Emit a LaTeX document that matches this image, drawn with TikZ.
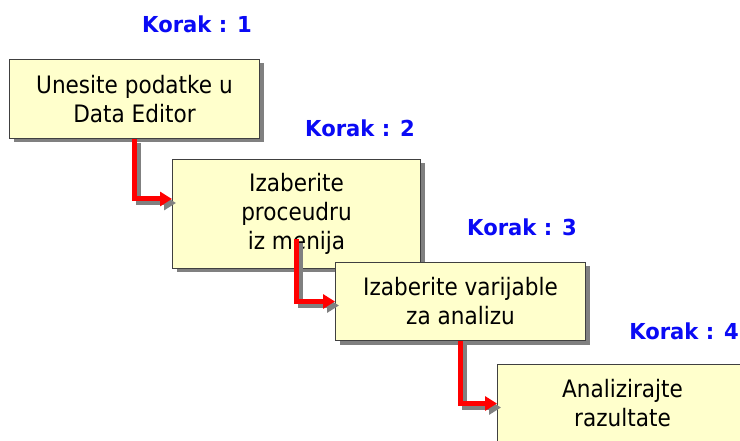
\documentclass[tikz,border=0pt]{standalone}
\usepackage{fontspec}
\setmainfont{DejaVu Sans}[FakeStretch=0.9]
\newfontfamily\korakfont{DejaVu Sans}[FakeStretch=0.96]
\usetikzlibrary{shadows,arrows.meta,calc}
\definecolor{boxfill}{RGB}{255,255,204}
\definecolor{korakblue}{RGB}{10,10,245}
\definecolor{shadowgray}{RGB}{128,128,128}
\newcommand\steparrow[2]{%
  \draw[arrowshadow] ($(#1)+(4,-4)$) |- ($(#2)+(4,-4)$);
  \draw[arrowmain] (#1) |- (#2);}
\begin{document}
\begin{tikzpicture}[x=1pt,y=1pt,
  stepbox/.style={draw=black!75, line width=1pt, fill=boxfill, anchor=north west,
    inner sep=0pt, align=center, font=\fontsize{24}{29}\selectfont,
    drop shadow={shadow xshift=4pt, shadow yshift=-4pt, fill=shadowgray, opacity=1}},
  korak/.style={anchor=base, text=korakblue, inner sep=0pt,
    font=\korakfont\bfseries\fontsize{22}{26}\selectfont},
  arrowmain/.style={draw=red, line width=5pt, -{Triangle[length=12pt,width=14pt]}},
  arrowshadow/.style={draw=shadowgray, line width=5pt, -{Triangle[length=12pt,width=14pt]}}]
\useasboundingbox (0,0) rectangle (740,-441);
\clip (0,0) rectangle (740,-441);
\fill[white] (0,0) rectangle (740,-441);

\node[korak] (k1) at (197,-33) {Korak : 1};
\node[korak] (k2) at (360,-137) {Korak : 2};
\node[korak] (k3) at (522,-236) {Korak : 3};
\node[korak, anchor=base east] (k4) at (739,-339) {Korak : 4};

\node[stepbox, minimum width=250pt, minimum height=79pt] (b1) at (9,-59) {Unesite podatke u\\Data Editor};
\node[stepbox, minimum width=248pt, minimum height=109pt] (b2) at (172,-159) {Izaberite\\proceudru\\iz menija};
\node[stepbox, minimum width=250pt, minimum height=78pt] (b3) at (335,-262) {Izaberite varijable\\za analizu};
\node[stepbox, minimum width=250pt, minimum height=78pt] (b4) at (497,-364) {Analizirajte\\razultate};

\coordinate (s2) at ($(b2.south)+(0,30)$);
\coordinate (e1) at ($(b2.north west)+(0,-40)$);

\steparrow{b1.south}{e1}
\steparrow{s2}{b3.west}
\steparrow{b3.south}{b4.west}
\end{tikzpicture}
\end{document}
